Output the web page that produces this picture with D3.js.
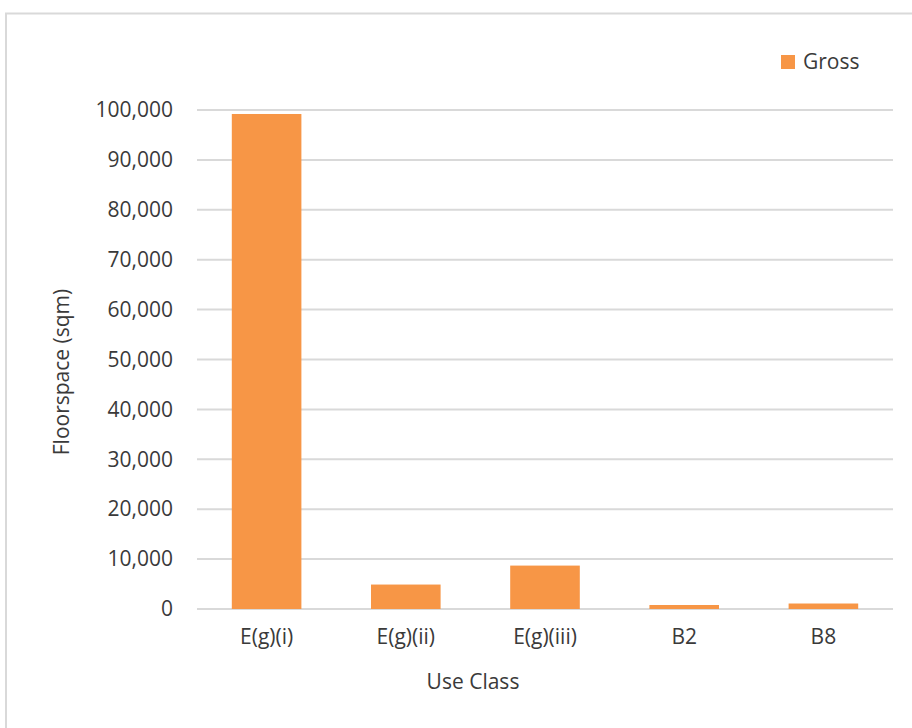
<!DOCTYPE html>
<html>
<head>
<meta charset="utf-8">
<script src="https://cdn.jsdelivr.net/npm/d3@7"></script>
<style>
  body { margin: 0; background: #fff; }
  svg { display: block; font-family: "Open Sans", sans-serif; }
</style>
</head>
<body>
<div id="chart"></div>
<script>
// Data
const categories = ["E(g)(i)", "E(g)(ii)", "E(g)(iii)", "B2", "B8"];
const grossValues = [99200, 4900, 8700, 800, 1100];
const yTicks = [0, 10000, 20000, 30000, 40000, 50000, 60000, 70000, 80000, 90000, 100000];
const seriesName = "Gross";

(function () {
  const W = 912, H = 728;
  const margin = { top: 110, right: 19, bottom: 119, left: 197 };
  const width = W - margin.left - margin.right;
  const height = H - margin.top - margin.bottom;
  const barColor = "#f79646";
  const gridColor = "#d9d9d9";
  const textColor = "#3a3a3a";

  const svgRoot = d3.select("#chart").append("svg")
    .attr("width", W)
    .attr("height", H);

  // chart frame (runs off the right and bottom edges)
  svgRoot.append("rect")
    .attr("x", 6).attr("y", 13.5)
    .attr("width", W + 20).attr("height", H + 20)
    .attr("fill", "none")
    .attr("stroke", gridColor)
    .attr("stroke-width", 2);

  const svg = svgRoot.append("g")
    .attr("transform", `translate(${margin.left},${margin.top})`);

  const x = d3.scaleBand()
    .domain(categories)
    .range([0, width])
    .paddingInner(0.5)
    .paddingOuter(0.25);

  const y = d3.scaleLinear()
    .domain([0, 100000])
    .range([height, 0]);

  // gridlines
  svg.append("g")
    .selectAll("line")
    .data(yTicks)
    .join("line")
    .attr("x1", 0).attr("x2", width)
    .attr("y1", d => y(d)).attr("y2", d => y(d))
    .attr("stroke", gridColor)
    .attr("stroke-width", 2);

  // y axis labels
  const yAxis = svg.append("g")
    .call(d3.axisLeft(y).tickValues(yTicks).tickSize(0).tickPadding(24).tickFormat(d3.format(",")));
  yAxis.select(".domain").remove();
  yAxis.selectAll("text")
    .style("font-size", "21px")
    .style("font-family", "\"Open Sans\", sans-serif")
    .attr("fill", textColor);

  // bars
  svg.selectAll(".bar")
    .data(categories.map((c, i) => ({ cat: c, val: grossValues[i] })))
    .join("rect")
    .attr("class", "bar")
    .attr("x", d => x(d.cat))
    .attr("y", d => y(d.val))
    .attr("width", x.bandwidth())
    .attr("height", d => y(0) - y(d.val))
    .attr("fill", barColor);

  // x axis labels
  const xAxis = svg.append("g")
    .attr("transform", `translate(0,${height})`)
    .call(d3.axisBottom(x).tickSize(0).tickPadding(20));
  xAxis.select(".domain").remove();
  xAxis.selectAll("text")
    .style("font-size", "21px")
    .style("font-family", "\"Open Sans\", sans-serif")
    .attr("fill", textColor);

  // axis titles
  svg.append("text")
    .attr("transform", "rotate(-90)")
    .attr("x", -262)
    .attr("y", -128)
    .attr("text-anchor", "middle")
    .style("font-size", "21px")
    .attr("fill", textColor)
    .text("Floorspace (sqm)");

  svg.append("text")
    .attr("x", width / 2 - 72)
    .attr("y", height + 80)
    .attr("text-anchor", "middle")
    .style("font-size", "21px")
    .attr("fill", textColor)
    .text("Use Class");

  // legend
  const legend = svgRoot.append("g")
    .attr("transform", "translate(781,55)");
  legend.append("rect")
    .attr("width", 14).attr("height", 14)
    .attr("fill", barColor);
  legend.append("text")
    .attr("x", 22).attr("y", 14)
    .style("font-size", "21px")
    .attr("fill", textColor)
    .text(seriesName);
})();
</script>
</body>
</html>
